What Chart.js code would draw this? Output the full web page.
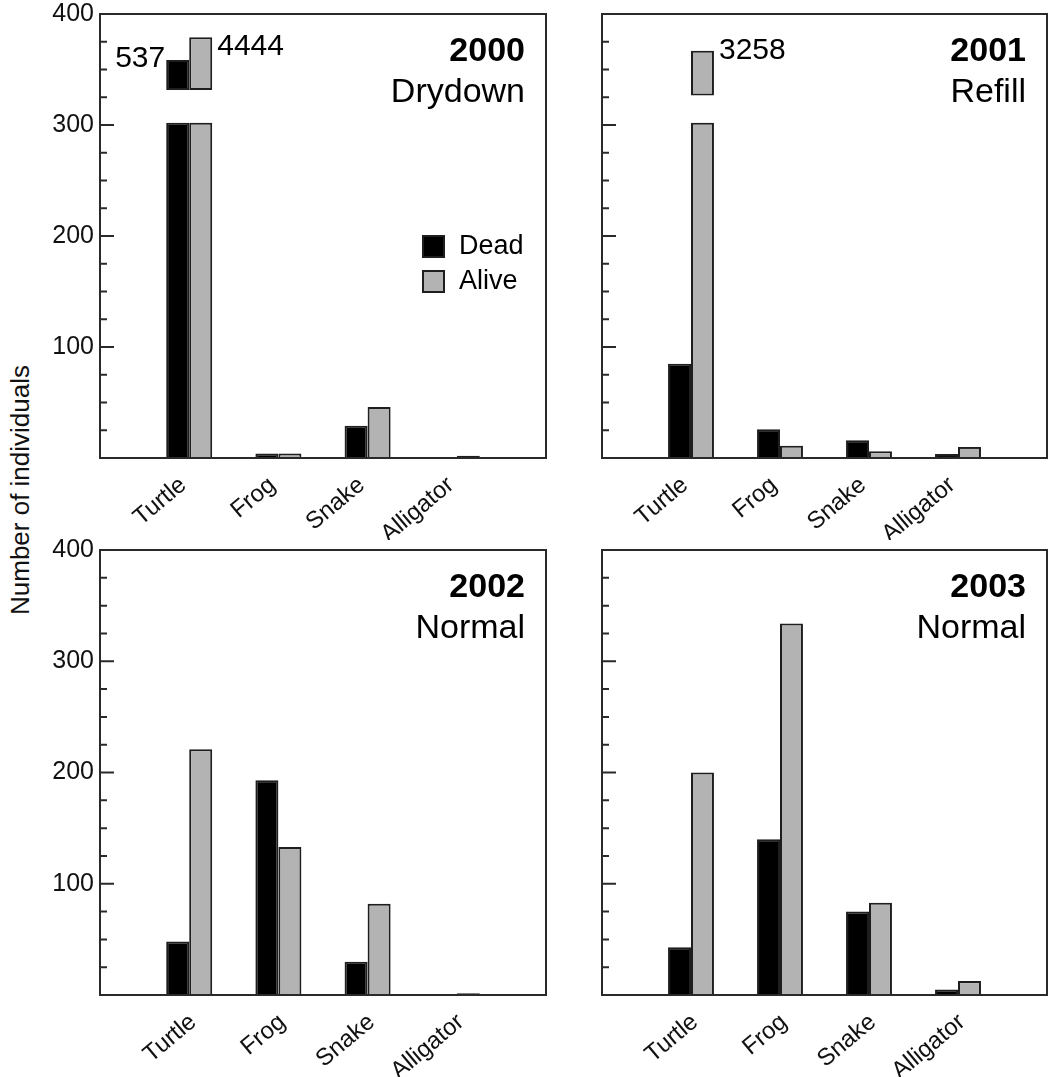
<!DOCTYPE html>
<html><head><meta charset="utf-8">
<script src="https://cdn.jsdelivr.net/npm/chart.js@4.4.0/dist/chart.umd.min.js"></script>
<style>
html,body{margin:0;padding:0;background:#fff;width:1051px;height:1077px;overflow:hidden;}
.panel{position:absolute;}
.panel canvas{display:block;}
#ytitle{position:absolute;left:20px;top:490px;transform:translate(-50%,-50%) rotate(-90deg);font:26px 'Liberation Sans',Arial,sans-serif;white-space:nowrap;color:#111;}
</style></head><body>
<div id="ytitle">Number of individuals</div>
<div class="panel" style="left:40px;top:0px"><canvas id="c0" width="510" height="540"></canvas></div>
<div class="panel" style="left:542px;top:0px"><canvas id="c1" width="509" height="540"></canvas></div>
<div class="panel" style="left:40px;top:536px"><canvas id="c2" width="510" height="541"></canvas></div>
<div class="panel" style="left:542px;top:536px"><canvas id="c3" width="509" height="541"></canvas></div>
<script>
// ---------- data ----------
const categories = ['Turtle', 'Frog', 'Snake', 'Alligator'];
const seriesNames = ['Dead', 'Alive'];
const years = ['2000', '2001', '2002', '2003'];
const conditions = ['Drydown', 'Refill', 'Normal', 'Normal'];
// plotted bar heights (bars above the break are cut at the break)
const dead2000  = [302, 4, 29, 0.5];
const alive2000 = [302, 4, 46, 2];
const dead2001  = [85, 26, 16, 3.5];
const alive2001 = [302, 11, 6, 10];
const dead2002  = [48, 193, 30, 0];
const alive2002 = [221, 133, 82, 1.5];
const dead2003  = [43, 140, 75, 5];
const alive2003 = [200, 334, 83, 12.5];
// upper pieces of broken bars [from, to] and the true totals printed beside them
const deadBreak2000  = [[331.5, 358.5], null, null, null];
const aliveBreak2000 = [[331.5, 379], null, null, null];
const aliveBreak2001 = [[326.5, 367], null, null, null];
const deadTotal2000 = '537';
const aliveTotal2000 = '4444';
const aliveTotal2001 = '3258';
const yTickLabels = [100, 200, 300, 400];
const yMinorTicks = [25, 50, 75, 125, 150, 175, 225, 250, 275, 325, 350, 375];

// ---------- styling ----------
const FONT = "'Liberation Sans', Arial, Helvetica, sans-serif";
const DEAD_COLOR = '#000000';
const ALIVE_COLOR = '#b3b3b3';
const EDGE = '#1e1e1e';
const AXIS = '#2a2a2a';

function pad(a) { return [null].concat(a, [null]); }

const framePlugin = {
  id: 'frame',
  afterDatasetsDraw(chart) {
    const {ctx, chartArea: a, scales: {y}} = chart;
    const o = chart.options.plugins.frame;
    ctx.save();
    ctx.strokeStyle = AXIS;
    ctx.lineWidth = 2;
    ctx.strokeRect(a.left, a.top, a.right - a.left, a.bottom - a.top);
    ctx.beginPath();
    yTickLabels.forEach(v => { const p = y.getPixelForValue(v); ctx.moveTo(a.left, p); ctx.lineTo(a.left + 14, p); });
    yMinorTicks.forEach(v => { const p = y.getPixelForValue(v); ctx.moveTo(a.left, p); ctx.lineTo(a.left + 7, p); });
    ctx.stroke();
    // year + condition
    ctx.fillStyle = '#000';
    ctx.textAlign = 'right';
    ctx.textBaseline = 'alphabetic';
    ctx.font = 'bold 34px ' + FONT;
    ctx.fillText(o.year, a.right - 21, a.top + 47);
    ctx.font = '34px ' + FONT;
    ctx.fillText(o.cond, a.right - 21, a.top + 88);
    // totals beside broken bars
    (o.breakLabels || []).forEach(b => {
      const el = chart.getDatasetMeta(b.ds).data[1];
      ctx.font = '30px ' + FONT;
      ctx.textBaseline = 'middle';
      if (b.side === 'left') { ctx.textAlign = 'right'; ctx.fillText(b.text, el.x - el.width / 2 - 1, el.y + b.dy); }
      else { ctx.textAlign = 'left'; ctx.fillText(b.text, el.x + el.width / 2 + 5, el.y + b.dy); }
    });
    // legend
    if (o.legend) {
      const cols = [DEAD_COLOR, ALIVE_COLOR];
      seriesNames.forEach((n, i) => {
        const bx = a.left + 322, by = a.top + 221 + i * 35;
        ctx.fillStyle = cols[i];
        ctx.fillRect(bx, by, 23, 23);
        ctx.strokeStyle = EDGE; ctx.lineWidth = 2;
        ctx.strokeRect(bx + 1, by + 1, 21, 21);
        ctx.fillStyle = '#000';
        ctx.font = '27px ' + FONT;
        ctx.textAlign = 'left'; ctx.textBaseline = 'middle';
        ctx.fillText(n, bx + 37, by + 12);
      });
    }
    ctx.restore();
  }
};

function makeChart(id, p) {
  const datasets = [
    {label: seriesNames[0], data: pad(p.dead), backgroundColor: DEAD_COLOR, stack: 'dead'},
    {label: seriesNames[1], data: pad(p.alive), backgroundColor: ALIVE_COLOR, stack: 'alive'}
  ];
  if (p.deadBreak) datasets.push({label: 'dead-top', data: pad(p.deadBreak), backgroundColor: DEAD_COLOR, stack: 'dead', borderSkipped: false});
  if (p.aliveBreak) datasets.push({label: 'alive-top', data: pad(p.aliveBreak), backgroundColor: ALIVE_COLOR, stack: 'alive', borderSkipped: false});
  datasets.forEach(d => { d.borderColor = EDGE; d.borderWidth = 2; d.categoryPercentage = 0.516; d.barPercentage = 1.0; });
  return new Chart(document.getElementById(id), {
    type: 'bar',
    data: {labels: pad(categories).map(c => c || ''), datasets},
    options: {
      responsive: false, animation: false,
      layout: {padding: {top: 14, right: 4, left: 0, bottom: 0}},
      plugins: {legend: {display: false}, tooltip: {enabled: false}, frame: p.frame},
      scales: {
        x: {
          type: 'category', offset: false,
          grid: {display: false, drawTicks: false}, border: {display: false},
          ticks: {autoSkip: false, minRotation: 40, maxRotation: 40, padding: p.xPad, labelOffset: p.xOff,
                  color: '#111', font: {family: FONT, size: 24}},
          afterFit(s) { s.height = p.xHeight; s.paddingLeft = 0; s.paddingRight = 0; }
        },
        y: {
          stacked: false, min: 0, max: 400,
          grid: {display: false, drawTicks: false}, border: {display: false},
          ticks: {display: p.yLabels, stepSize: 100, padding: 6, color: '#111', font: {family: FONT, size: 25},
                  callback: v => yTickLabels.includes(v) ? String(v) : ''},
          afterFit(s) { s.width = 60; s.paddingTop = 0; s.paddingBottom = 0; }
        }
      }
    },
    plugins: [framePlugin]
  });
}

makeChart('c0', {dead: dead2000, alive: alive2000, deadBreak: deadBreak2000, aliveBreak: aliveBreak2000,
  yLabels: true, xHeight: 82, xPad: 13, xOff: -6,
  frame: {year: years[0], cond: conditions[0], legend: true,
    breakLabels: [{ds: 2, text: deadTotal2000, side: 'left', dy: -1}, {ds: 3, text: aliveTotal2000, side: 'right', dy: 9}]}});
makeChart('c1', {dead: dead2001, alive: alive2001, aliveBreak: aliveBreak2001,
  yLabels: false, xHeight: 82, xPad: 13, xOff: -6,
  frame: {year: years[1], cond: conditions[1], legend: false,
    breakLabels: [{ds: 2, text: aliveTotal2001, side: 'right', dy: 0}]}});
makeChart('c2', {dead: dead2002, alive: alive2002,
  yLabels: true, xHeight: 82, xPad: 13, xOff: 4,
  frame: {year: years[2], cond: conditions[2], legend: false}});
makeChart('c3', {dead: dead2003, alive: alive2003,
  yLabels: false, xHeight: 82, xPad: 13, xOff: 4,
  frame: {year: years[3], cond: conditions[3], legend: false}});
</script>
</body></html>
